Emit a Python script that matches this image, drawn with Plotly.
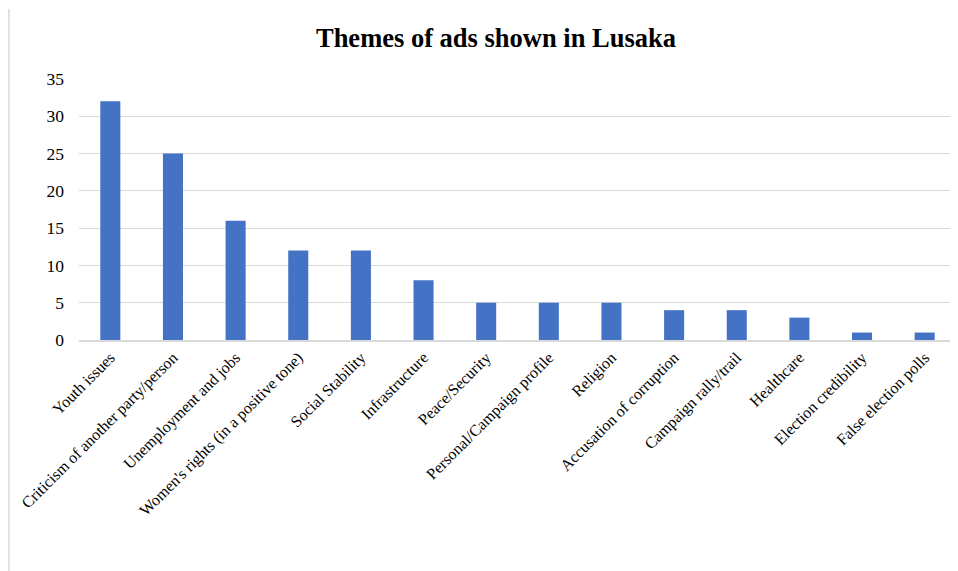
import plotly.graph_objects as go

categories = ["Youth issues", "Criticism of another party/person", "Unemployment and jobs",
              "Women's rights (in a positive tone)", "Social Stability", "Infrastructure",
              "Peace/Security", "Personal/Campaign profile", "Religion",
              "Accusation of corruption", "Campaign rally/trail", "Healthcare",
              "Election credibility", "False election polls"]
values = [32, 25, 16, 12, 12, 8, 5, 5, 5, 4, 4, 3, 1, 1]
y_ticks = [0, 5, 10, 15, 20, 25, 30, 35]

# page body has an 8px margin, so the figure is offset by 8px
W, H = 950, 563
L, R, T, B = 71, 2, 71, 231
ph = H - T - B
pw = W - L - R

fig = go.Figure(go.Bar(x=categories, y=values, marker=dict(color="#4472C4", line=dict(width=0)),
                       width=0.32))

fig.update_layout(
    width=W, height=H,
    margin=dict(l=L, r=R, t=T, b=B, autoexpand=False),
    paper_bgcolor="white", plot_bgcolor="white",
    font=dict(family="Liberation Serif, Times New Roman, serif", size=16, color="#000000"),
    title=dict(text="<b>Themes of ads shown in Lusaka</b>", x=488 / W, xanchor="center",
               y=1 - 30 / H, yanchor="middle",
               font=dict(family="Liberation Serif, Times New Roman, serif", size=26.5, color="#000000")),
    showlegend=False,
)
fig.update_xaxes(tickangle=-45, showgrid=False, showline=True, linecolor="#d9d9d9", linewidth=2,
                 ticks="", tickfont=dict(size=16), range=[-0.5, len(categories) - 0.5],
                 automargin=False)
fig.update_yaxes(range=[0, 35], tickvals=y_ticks, showgrid=True, gridcolor="#d9d9d9", gridwidth=1,
                 zeroline=False, showline=False, ticks="", tickfont=dict(size=17.5),
                 ticklabelstandoff=14, automargin=False)

# left border of chart frame
fig.add_shape(type="line", xref="paper", yref="paper",
              x0=(1 - L) / pw, x1=(1 - L) / pw,
              y0=(H - B - 1) / ph, y1=(H - B - H - 10) / ph,
              line=dict(color="#d9d9d9", width=1.5))

fig.write_html("out.html")
